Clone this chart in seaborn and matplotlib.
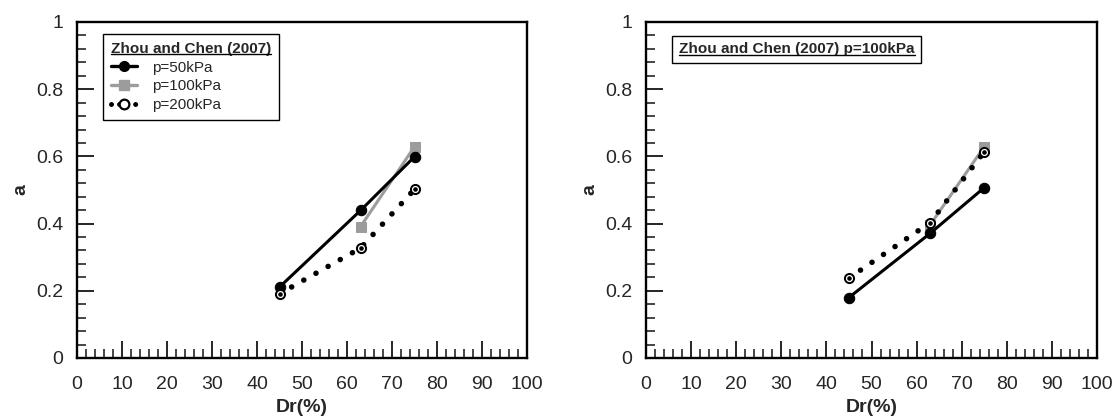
import numpy as np
import pandas as pd
import matplotlib
matplotlib.use("Agg")
import matplotlib.pyplot as plt
from matplotlib.ticker import MultipleLocator
from matplotlib.lines import Line2D
import seaborn as sns

sns.set_style("ticks")
plt.rcParams['font.family'] = ['Liberation Sans', 'DejaVu Sans']

# Left panel data
left_dr_50 = [45, 63, 75]
left_a_50 = [0.211, 0.439, 0.599]
left_dr_100 = [63, 75]
left_a_100 = [0.391, 0.629]
left_dr_200 = [45, 63, 75]
left_a_200 = [0.191, 0.327, 0.502]

# Right panel data
right_dr_s1 = [45, 63, 75]
right_a_s1 = [0.180, 0.371, 0.507]
right_dr_s2 = [63, 75]
right_a_s2 = [0.396, 0.629]
right_dr_s3 = [45, 63, 75]
right_a_s3 = [0.238, 0.403, 0.614]

labels = ["p=50kPa", "p=100kPa", "p=200kPa"]
x_ticks = [0, 10, 20, 30, 40, 50, 60, 70, 80, 90, 100]
y_ticks = [0, 0.2, 0.4, 0.6, 0.8, 1]
y_tick_labels = ["0", "0.2", "0.4", "0.6", "0.8", "1"]

GRAY = "#9c9c9c"
DOT_STYLE = (0, (0.01, 2.5))

fig = plt.figure(figsize=(11.15, 4.16), dpi=100)
W, H = 1115, 416
ax1 = fig.add_axes([77 / W, 1 - 358 / H, 450 / W, 336 / H])
ax2 = fig.add_axes([646 / W, 1 - 358 / H, 451 / W, 336 / H])


def draw_series(ax, xs, ys, kind, label):
    df = pd.DataFrame({"Dr": xs, "a": ys})
    if kind == "solid":
        sns.lineplot(data=df, x="Dr", y="a", ax=ax, color="black", lw=2.2,
                     marker="o", markersize=7.5, markeredgecolor="black",
                     markerfacecolor="black", label=label, zorder=4)
    elif kind == "gray":
        sns.lineplot(data=df, x="Dr", y="a", ax=ax, color=GRAY, lw=2.2,
                     marker="s", markersize=7.5, markeredgecolor=GRAY,
                     markerfacecolor=GRAY, label=label, zorder=3)
    else:
        sns.lineplot(data=df, x="Dr", y="a", ax=ax, color="black", lw=4.0,
                     linestyle=DOT_STYLE, dash_capstyle="round",
                     label=label, zorder=3)
        ax.plot(xs, ys, lw=0, marker="o", markersize=7, markerfacecolor="black",
                markeredgecolor="black", zorder=5)
        ax.plot(xs, ys, lw=0, marker="o", markersize=4.2, markerfacecolor="none",
                markeredgecolor="white", markeredgewidth=0.9, zorder=6)


def style_axis(ax):
    ax.set_xlim(0, 100)
    ax.set_ylim(0, 1)
    ax.set_xticks(x_ticks)
    ax.set_yticks(y_ticks)
    ax.set_yticklabels(y_tick_labels)
    ax.xaxis.set_minor_locator(MultipleLocator(2))
    ax.yaxis.set_minor_locator(MultipleLocator(0.04))
    ax.tick_params(axis="both", which="major", direction="in", length=12.5, width=1.4,
                   labelsize=14, top=False, right=False)
    ax.tick_params(axis="both", which="minor", direction="in", length=6.5, width=1.2,
                   top=False, right=False)
    ax.tick_params(axis="x", which="major", pad=13)
    ax.tick_params(axis="y", which="major", pad=10)
    for s in ax.spines.values():
        s.set_visible(True)
        s.set_linewidth(1.7)
        s.set_color("black")
    ax.set_xlabel("Dr(%)", fontsize=14, fontweight="bold", labelpad=4)
    ax.set_ylabel("a", fontsize=14, fontweight="bold", labelpad=5)


draw_series(ax1, left_dr_50, left_a_50, "solid", labels[0])
draw_series(ax1, left_dr_100, left_a_100, "gray", labels[1])
draw_series(ax1, left_dr_200, left_a_200, "dotted", labels[2])

draw_series(ax2, right_dr_s1, right_a_s1, "solid", None)
draw_series(ax2, right_dr_s2, right_a_s2, "gray", None)
draw_series(ax2, right_dr_s3, right_a_s3, "dotted", None)

style_axis(ax1)
style_axis(ax2)
if ax2.get_legend() is not None:
    ax2.get_legend().remove()

# Left legend with custom handles
h_solid = Line2D([], [], color="black", lw=2.4, marker="o", markersize=7)
h_gray = Line2D([], [], color=GRAY, lw=2.4, marker="s", markersize=6.5)
h_dot = Line2D([], [], color="black", lw=3.6, linestyle=(0, (0.01, 1.6)),
               dash_capstyle="round", marker="o", markersize=7,
               markerfacecolor="white", markeredgecolor="black", markeredgewidth=1.6)
leg = ax1.legend([h_solid, h_gray, h_dot], labels, loc="upper left",
                 bbox_to_anchor=((103 - 77) / 450, (358 - 34) / 336),
                 borderaxespad=0, frameon=True,
                 fancybox=False, edgecolor="black", framealpha=1,
                 title="Zhou and Chen (2007)",
                 title_fontproperties={"weight": "bold", "size": 11},
                 fontsize=11, handlelength=1.7, handletextpad=1.0,
                 labelspacing=0.32, borderpad=0.5)
leg._legend_box.align = "left"
leg.get_frame().set_linewidth(1.0)

# Right panel box
t2 = ax2.text((679 - 646) / 451, (358 - 49.5) / 336, "Zhou and Chen (2007) p=100kPa",
              transform=ax2.transAxes,
              fontsize=11, fontweight="bold", ha="left", va="center",
              bbox=dict(boxstyle="square,pad=0.45", facecolor="white",
                        edgecolor="black", linewidth=1.0))

# Underlines
fig.canvas.draw()
renderer = fig.canvas.get_renderer()
for txt in [leg.get_title(), t2]:
    bb = txt.get_window_extent(renderer)
    x0, x1 = bb.x0 / W, bb.x1 / W
    y = (bb.y0 + 1.5) / H
    fig.add_artist(Line2D([x0, x1], [y, y], color="black", lw=1.0,
                          transform=fig.transFigure))

fig.savefig("out.png", dpi=100)
